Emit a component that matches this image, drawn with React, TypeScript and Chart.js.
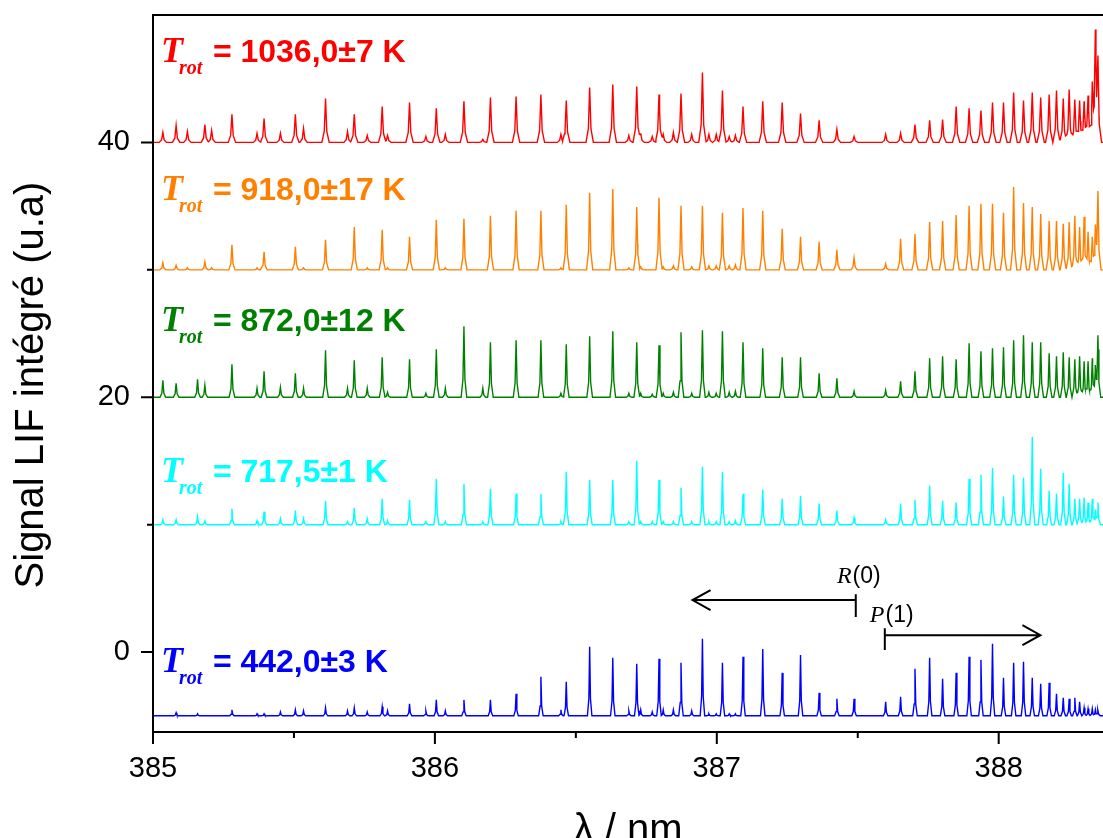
import React, { useEffect, useRef } from 'react';
import { Chart, registerables } from 'chart.js';

Chart.register(...registerables);

// ---- axes ----
const X_MIN = 385;
const X_MAX = 388.37;
const Y_MIN = -6.27;
const Y_MAX = 50;
const X_MAJOR = [385, 386, 387, 388];
const X_MINOR = [385.5, 386.5, 387.5];
const Y_MAJOR = [0, 20, 40];
const Y_MINOR = [10, 30];

// ---- rotational lines (nm), shared by all spectra ----
const LINE_NM = [
  385.035, 385.082, 385.122, 385.158, 385.184, 385.208, 385.280, 385.369, 385.394, 385.452,
  385.505, 385.534, 385.612, 385.690, 385.714, 385.760, 385.813, 385.832, 385.910, 385.968,
  386.005, 386.037, 386.103, 386.170, 386.197, 386.288, 386.376, 386.447, 386.466, 386.549,
  386.631, 386.688, 386.716, 386.730, 386.771, 386.795, 386.810, 386.846, 386.873, 386.911,
  386.949, 386.972, 386.998, 387.020, 387.044, 387.066, 387.093, 387.163, 387.232, 387.297,
  387.363, 387.426, 387.487, 387.599, 387.652, 387.703, 387.755, 387.801, 387.849, 387.895,
  387.937, 387.978, 388.017, 388.053, 388.088, 388.119, 388.149, 388.179, 388.205, 388.229,
  388.250, 388.270, 388.287, 388.303, 388.317, 388.332, 388.343, 388.352,
];

// ---- peak heights above each baseline (u.a) ----
const H_1036 = [
  0.78, 1.33, 0.86, 0, 1.41, 0.94, 2.20, 0.71, 1.88, 0.71,
  2.20, 1.10, 3.45, 0.86, 2.20, 0.55, 2.82, 0.55, 3.14, 0.47,
  2.67, 0.63, 3.22, 0.24, 3.53, 3.61, 3.76, 0.63, 3.29, 4.31,
  4.55, 0.55, 4.39, 0.71, 0.47, 3.76, 0.63, 0.78, 3.84, 0.63,
  5.49, 0.63, 0.63, 4.08, 0.47, 0.55, 2.82, 3.22, 3.14, 2.27,
  1.73, 1.02, 0.47, 0.63, 0.71, 1.41, 1.73, 1.80, 2.82, 2.67,
  2.51, 3.14, 3.14, 3.92, 3.29, 3.92, 3.53, 3.76, 4.08, 3.45,
  4.16, 3.37, 3.29, 3.22, 3.69, 4.31, 7.92, 5.88,
];
const H_918 = [
  0.55, 0.35, 0.16, 0, 0.63, 0.16, 1.96, 0.16, 1.41, 0,
  1.80, 0.16, 2.35, 0, 3.37, 0.16, 3.14, 0.16, 2.59, 0,
  3.92, 0.16, 4.00, 0, 4.24, 4.63, 4.63, 0.16, 5.10, 6.04,
  6.35, 0.16, 4.94, 0.24, 0, 5.65, 0.24, 0.31, 5.02, 0.24,
  5.02, 0.31, 0.31, 4.47, 0.31, 0.39, 4.86, 4.63, 3.22, 2.59,
  2.20, 1.57, 0.94, 0.47, 2.43, 2.82, 3.76, 3.84, 4.31, 5.02,
  5.18, 5.18, 4.47, 6.51, 5.25, 4.94, 4.39, 3.84, 3.84, 3.61,
  3.76, 4.24, 3.37, 4.16, 2.98, 2.59, 3.14, 5.96,
];
const H_872 = [
  1.33, 1.10, 0, 1.41, 0.94, 0, 2.59, 0.71, 2.04, 0.78,
  1.88, 0.71, 3.69, 0.71, 2.90, 0.71, 3.14, 0.39, 2.98, 0.31,
  3.76, 0.71, 5.57, 0.71, 4.31, 4.47, 4.47, 0.31, 4.16, 4.78,
  5.18, 0.31, 4.31, 0.31, 0.24, 4.08, 0.31, 0.39, 5.10, 0.31,
  5.25, 0.39, 0.31, 5.18, 0.39, 0.47, 4.31, 3.84, 3.14, 3.14,
  1.88, 1.49, 0.47, 0.55, 1.25, 2.04, 3.06, 3.22, 2.98, 4.24,
  3.61, 3.84, 3.92, 4.47, 4.86, 4.31, 4.31, 3.45, 3.22, 3.53,
  3.14, 2.98, 3.22, 2.82, 2.82, 3.06, 2.35, 4.78,
];
const H_717 = [
  0.39, 0.39, 0, 0.63, 0.31, 0, 1.25, 0.31, 1.02, 0.47,
  1.10, 0.47, 1.88, 0.24, 1.33, 0.47, 2.04, 0.31, 1.96, 0.24,
  3.61, 0.24, 3.22, 0.24, 2.82, 2.43, 2.43, 0.24, 4.16, 3.53,
  3.53, 0.24, 5.02, 0.24, 0.24, 3.53, 0.24, 0.24, 2.90, 0.24,
  4.55, 0.24, 0.24, 4.16, 0.24, 0.31, 2.43, 2.75, 2.04, 2.27,
  1.65, 1.10, 0.55, 0.39, 1.65, 1.96, 3.06, 1.88, 1.73, 3.61,
  3.92, 4.47, 2.20, 3.92, 3.69, 6.90, 4.39, 2.67, 2.43, 4.08,
  3.22, 2.04, 2.04, 2.12, 1.73, 2.04, 1.18, 1.73,
];
const H_442 = [
  0, 0.24, 0, 0.16, 0, 0, 0.47, 0.16, 0.16, 0.31,
  0.47, 0.39, 0.63, 0.39, 0.63, 0.31, 0.71, 0.39, 0.94, 0.39,
  1.25, 0.39, 1.25, 0, 1.25, 1.73, 3.06, 0.47, 2.67, 5.41,
  4.55, 0.39, 4.08, 0.47, 0.31, 4.47, 0.47, 0.47, 4.16, 0.39,
  6.04, 0.16, 0.16, 4.16, 0.16, 0.16, 4.63, 5.25, 3.37, 4.78,
  1.80, 1.33, 1.33, 1.10, 1.49, 3.69, 4.55, 2.90, 3.37, 4.63,
  4.39, 5.65, 2.98, 4.16, 4.24, 2.98, 2.51, 2.59, 1.73, 1.41,
  1.33, 1.41, 1.10, 0.63, 0.55, 0.55, 0.47, 0.47,
];

// ---- spectra: order, offsets, labels ----
const SPEC_HEIGHTS = [H_1036, H_918, H_872, H_717, H_442];
const SPEC_BASE = [40, 30, 20, 10, -5];
const SPEC_LABEL = ['= 1036,0±7 K', '= 918,0±17 K', '= 872,0±12 K', '= 717,5±1 K', '= 442,0±3 K'];
const LABEL_X = 385.028;
const LABEL_Y = [46.35, 35.45, 25.18, 13.33, -1.57];

// ---- R(0) / P(1) arrows ----
const R0 = { x0: 387.493, x1: 386.914, y: 4.08, barTop: 4.55, barBot: 2.75, tx: 387.426, ty: 5.41 };
const P1 = { x0: 387.596, x1: 388.148, y: 1.33, barTop: 1.88, barBot: 0.16, tx: 387.543, ty: 2.35 };

// ---- styles ----
const COLORS = ['#ff0000', '#ff8000', '#008000', '#00ffff', '#0000ff'];
const HALF_W = [0.013, 0.011, 0.010, 0.009, 0.008];
const SANS = '"Liberation Sans", Arial, sans-serif';
const SERIF = '"Liberation Serif", "Times New Roman", serif';

const SHAPE_OFF = [-1, -0.35, 0, 0.35, 1];

function peakProfile(dx: number, h: number, w: number): number {
  const a = Math.abs(dx) / w;
  if (a >= 1) return 0;
  if (a <= 0.35) return h * (1 - 0.75 * (a / 0.35));
  return h * 0.25 * (1 - a) / 0.65;
}

function buildSpectrum(base: number, heights: number[], w: number) {
  const xs: number[] = [X_MIN, X_MAX];
  LINE_NM.forEach((c, i) => {
    if (heights[i] > 0) SHAPE_OFF.forEach((o) => xs.push(c + o * w));
  });
  xs.sort((a, b) => a - b);
  const pts: { x: number; y: number }[] = [];
  xs.forEach((xv) => {
    if (xv < X_MIN || xv > X_MAX) return;
    let s = 0;
    LINE_NM.forEach((c, i) => {
      if (heights[i] > 0) s += peakProfile(xv - c, heights[i], w);
    });
    pts.push({ x: xv, y: base + s });
  });
  return pts;
}

function arrow(ctx: CanvasRenderingContext2D, xs: any, ys: any, a: typeof R0) {
  const x0 = xs.getPixelForValue(a.x0);
  const x1 = xs.getPixelForValue(a.x1);
  const yy = ys.getPixelForValue(a.y);
  ctx.beginPath();
  ctx.moveTo(x0, ys.getPixelForValue(a.barTop));
  ctx.lineTo(x0, ys.getPixelForValue(a.barBot));
  ctx.moveTo(x0, yy);
  ctx.lineTo(x1, yy);
  const dir = x1 > x0 ? -1 : 1;
  ctx.moveTo(x1 + dir * 18, yy - 10);
  ctx.lineTo(x1, yy);
  ctx.lineTo(x1 + dir * 18, yy + 10);
  ctx.stroke();
}

const decorPlugin = {
  id: 'decor',
  afterDraw(chart: any) {
    const { ctx, chartArea: ca } = chart;
    const xs = chart.scales.x;
    const ys = chart.scales.y;
    ctx.save();
    ctx.strokeStyle = '#000';
    ctx.lineWidth = 2;
    ctx.beginPath();
    ctx.moveTo(ca.left, ca.top - 1);
    ctx.lineTo(ca.left, ca.bottom + 1);
    ctx.moveTo(ca.left - 1, ca.bottom);
    ctx.lineTo(ca.right, ca.bottom);
    ctx.moveTo(ca.left - 1, ca.top);
    ctx.lineTo(ca.right, ca.top);
    X_MAJOR.forEach((v) => {
      const p = xs.getPixelForValue(v);
      ctx.moveTo(p, ca.bottom);
      ctx.lineTo(p, ca.bottom + 12);
    });
    X_MINOR.forEach((v) => {
      const p = xs.getPixelForValue(v);
      ctx.moveTo(p, ca.bottom);
      ctx.lineTo(p, ca.bottom + 6);
    });
    Y_MAJOR.forEach((v) => {
      const p = ys.getPixelForValue(v);
      ctx.moveTo(ca.left, p);
      ctx.lineTo(ca.left - 12, p);
    });
    Y_MINOR.forEach((v) => {
      const p = ys.getPixelForValue(v);
      ctx.moveTo(ca.left, p);
      ctx.lineTo(ca.left - 6, p);
    });
    ctx.stroke();

    // temperature labels
    ctx.textAlign = 'left';
    ctx.textBaseline = 'alphabetic';
    SPEC_LABEL.forEach((t, i) => {
      const px = xs.getPixelForValue(LABEL_X);
      const py = ys.getPixelForValue(LABEL_Y[i]);
      ctx.fillStyle = COLORS[i];
      ctx.font = `italic bold 36px ${SERIF}`;
      ctx.fillText('T', px, py);
      ctx.font = `italic bold 20px ${SERIF}`;
      ctx.fillText('rot', px + 18, py + 12);
      ctx.font = `bold 32px ${SANS}`;
      ctx.fillText(t, px + 52, py);
    });

    // arrows
    ctx.strokeStyle = '#000';
    ctx.lineWidth = 2;
    arrow(ctx, xs, ys, R0);
    arrow(ctx, xs, ys, P1);
    ctx.fillStyle = '#000';
    const branch = (letter: string, rest: string, a: typeof R0) => {
      const px = xs.getPixelForValue(a.tx);
      const py = ys.getPixelForValue(a.ty);
      ctx.font = `italic 24px ${SERIF}`;
      ctx.fillText(letter, px, py);
      const wl = ctx.measureText(letter).width;
      ctx.font = `23px ${SANS}`;
      ctx.fillText(rest, px + wl + 1, py);
    };
    branch('R', '(0)', R0);
    branch('P', '(1)', P1);

    // axis titles
    ctx.font = `40px ${SANS}`;
    ctx.textAlign = 'center';
    ctx.fillText('λ / nm', 628, 842);
    ctx.translate(43, 385);
    ctx.rotate(-Math.PI / 2);
    ctx.fillText('Signal LIF intégré (u.a)', 0, 0);
    ctx.restore();
  },
};

export default function App() {
  const ref = useRef<HTMLCanvasElement>(null);
  useEffect(() => {
    document.body.style.margin = '0';
    const datasets = SPEC_HEIGHTS.map((h, i) => ({
      data: buildSpectrum(SPEC_BASE[i], h, HALF_W[i]),
      borderColor: COLORS[i],
      backgroundColor: COLORS[i],
      borderWidth: 1.4,
      pointRadius: 0,
      tension: 0,
      fill: false,
    }));
    const chart = new Chart(ref.current as HTMLCanvasElement, {
      type: 'line',
      data: { datasets },
      options: {
        animation: false,
        responsive: false,
        devicePixelRatio: 1,
        layout: { padding: { top: 15, right: 0, left: 0, bottom: 0 } },
        plugins: { legend: { display: false }, tooltip: { enabled: false } },
        scales: {
          x: {
            type: 'linear',
            min: X_MIN,
            max: X_MAX,
            grid: { display: false, drawTicks: true, tickLength: 12 },
            border: { display: false },
            ticks: {
              color: '#000',
              font: { family: SANS, size: 29 },
              padding: 8,
              maxRotation: 0,
              autoSkip: false,
              callback: (v: any) => String(v),
            },
            afterBuildTicks: (s: any) => {
              s.ticks = X_MAJOR.map((v) => ({ value: v }));
            },
            afterFit: (s: any) => {
              s.height = 106;
              s.paddingLeft = 0;
              s.paddingRight = 0;
            },
          },
          y: {
            type: 'linear',
            min: Y_MIN,
            max: Y_MAX,
            grid: { display: false, drawTicks: true, tickLength: 12 },
            border: { display: false },
            ticks: {
              color: '#000',
              font: { family: SANS, size: 29 },
              padding: 11,
              autoSkip: false,
              callback: (v: any) => (Y_MAJOR.includes(v) ? String(v) : ''),
            },
            afterBuildTicks: (s: any) => {
              s.ticks = [...Y_MAJOR, ...Y_MINOR].sort((a, b) => a - b).map((v) => ({ value: v }));
            },
            afterFit: (s: any) => {
              s.width = 153;
              s.paddingTop = 0;
              s.paddingBottom = 0;
            },
          },
        },
      } as any,
      plugins: [decorPlugin],
    });
    return () => chart.destroy();
  }, []);
  return <canvas ref={ref} width={1103} height={838} style={{ display: 'block', width: 1103, height: 838 }} />;
}
